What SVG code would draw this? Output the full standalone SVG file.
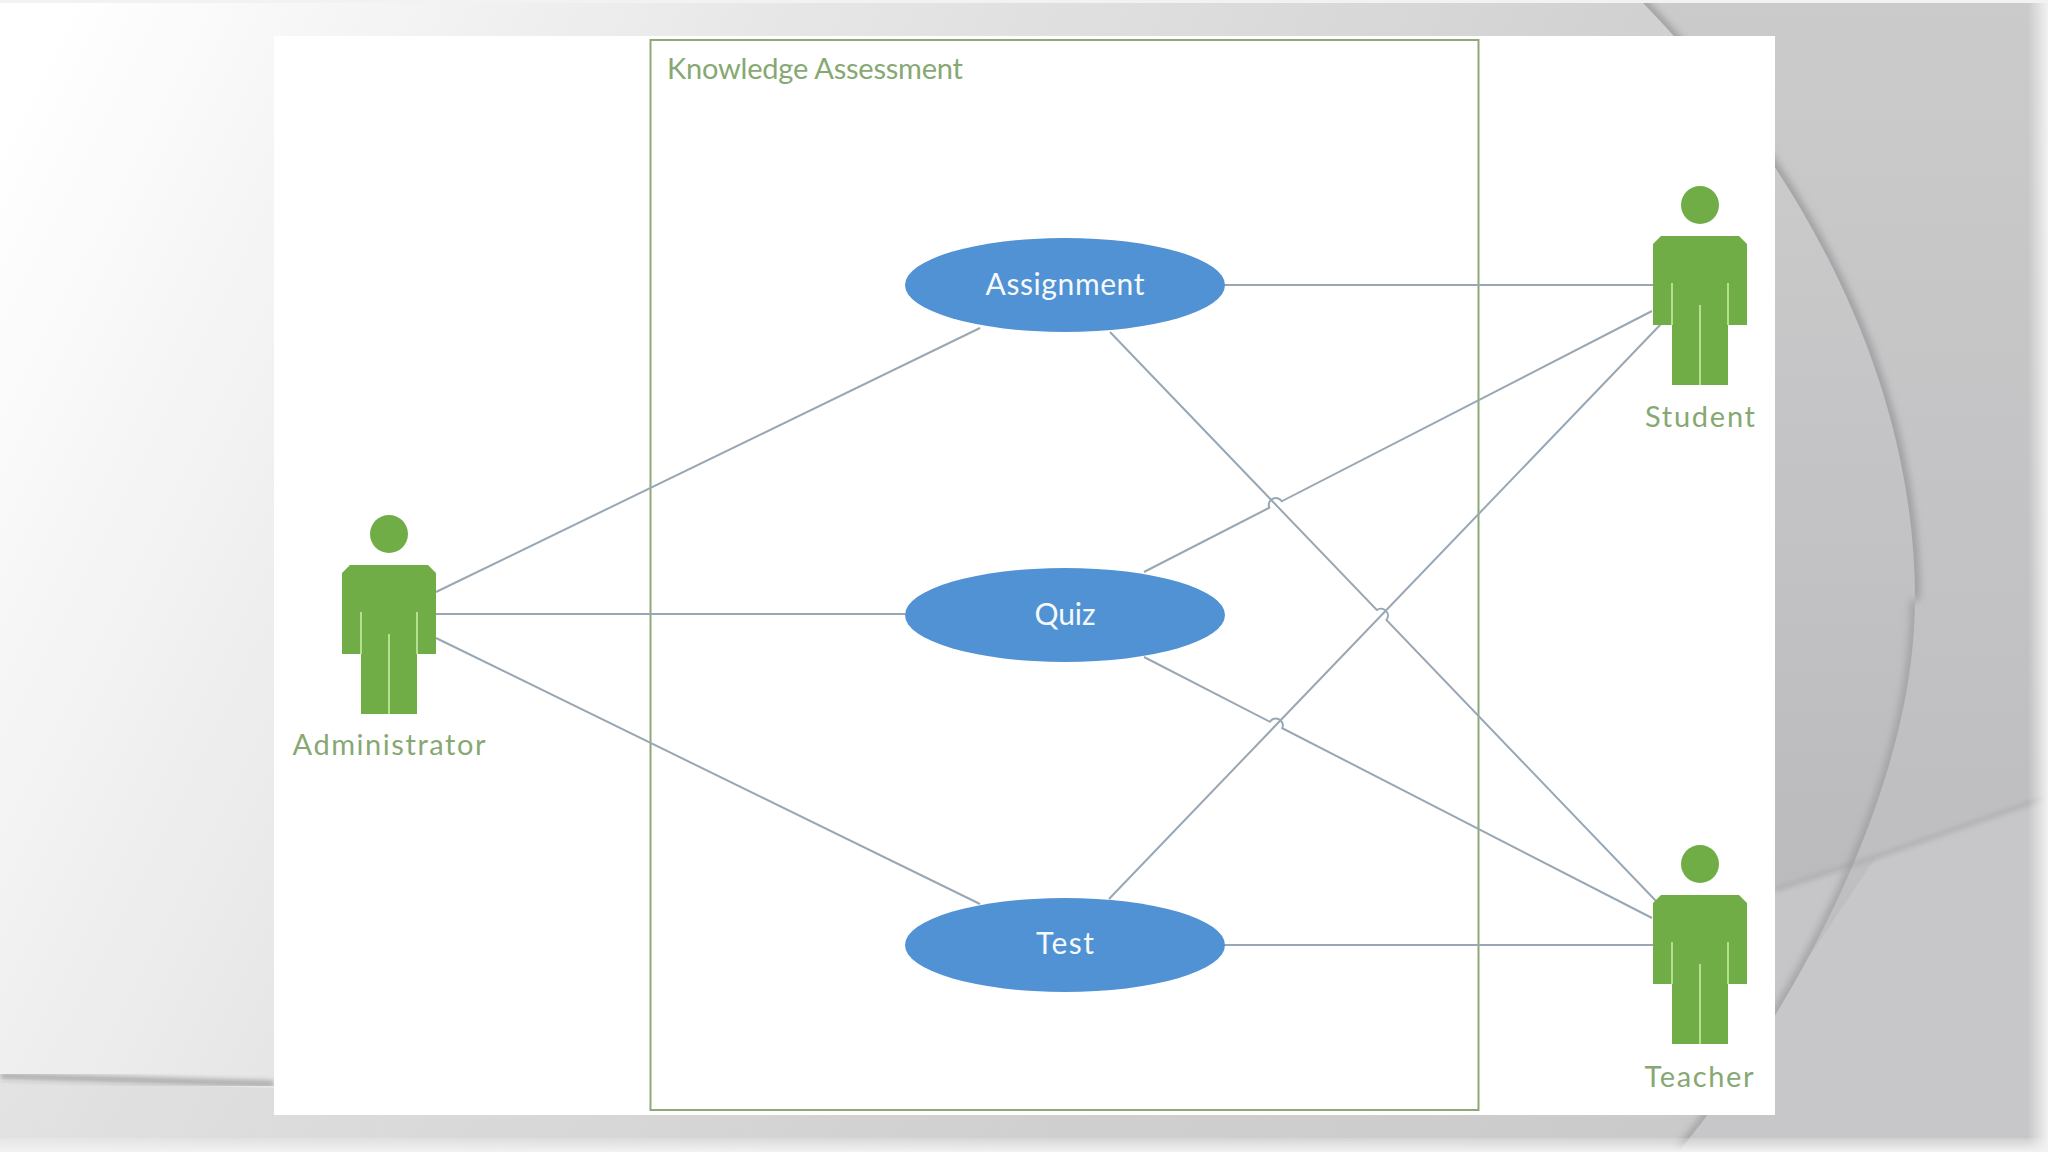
<svg xmlns="http://www.w3.org/2000/svg" width="2048" height="1152" viewBox="0 0 2048 1152">
<defs>
<linearGradient id="bg" gradientUnits="userSpaceOnUse" x1="0" y1="0" x2="1800" y2="900">
<stop offset="0.03" stop-color="#ffffff"/><stop offset="0.36" stop-color="#e6e6e6"/><stop offset="0.72" stop-color="#d2d2d2"/><stop offset="1" stop-color="#cacaca"/>
</linearGradient>
<linearGradient id="edgeR" x1="0" y1="0" x2="1" y2="0"><stop offset="0" stop-color="#f2f2f2" stop-opacity="0"/><stop offset="1" stop-color="#f2f2f2"/></linearGradient>
<linearGradient id="edgeB" x1="0" y1="0" x2="0" y2="1"><stop offset="0" stop-color="#f2f2f2" stop-opacity="0.2"/><stop offset="1" stop-color="#f2f2f2"/></linearGradient>
<linearGradient id="floor" gradientUnits="userSpaceOnUse" x1="0" y1="0" x2="1500" y2="0"><stop offset="0" stop-color="#000" stop-opacity="0.05"/><stop offset="1" stop-color="#000" stop-opacity="0"/></linearGradient>
<linearGradient id="inner" gradientUnits="userSpaceOnUse" x1="0" y1="170" x2="0" y2="880"><stop offset="0" stop-color="#cacacb"/><stop offset="1" stop-color="#bbbabd"/></linearGradient>
<linearGradient id="outer" gradientUnits="userSpaceOnUse" x1="0" y1="0" x2="0" y2="800"><stop offset="0" stop-color="#cbcbcb"/><stop offset="1" stop-color="#bfbec1"/></linearGradient>
<filter id="soft" x="-20%" y="-20%" width="140%" height="140%"><feGaussianBlur stdDeviation="4"/></filter>
<filter id="softer" x="-20%" y="-20%" width="140%" height="140%"><feGaussianBlur stdDeviation="2.5"/></filter>
<clipPath id="rightOfArc"><path d="M1640 0C1750 112 1915 330 1915 600C1915 800 1780 1030 1678 1152L2048 1152L2048 0Z"/></clipPath>
<clipPath id="leftOfArc"><path d="M1640 0C1750 112 1915 330 1915 600C1915 800 1780 1030 1678 1152L1500 1152L1500 0Z"/></clipPath>
<symbol id="actor" overflow="visible">
<circle cx="0" cy="0" r="19" class="a"/>
<path class="a" d="M-39 31H39L47 39V120H28V180H-28V120H-47V39Z"/>
<path class="s" d="M-28 78V120M28 78V120M0 100V180"/>
</symbol>
<style>
.a{fill:#70ad47}
.s{fill:none;stroke:#b5e08f;stroke-width:2}
.u{fill:#5092d3}
.c{fill:none;stroke:#98a7b3;stroke-width:2}
.t{font-family:"Lato","Open Sans","Liberation Sans",sans-serif;font-size:29px;fill:#86a872;text-anchor:middle}
.w{font-family:"Lato","Open Sans","Liberation Sans",sans-serif;font-size:30px;fill:#f6f9fc;text-anchor:middle}
</style>
</defs>
<g id="background">
<rect width="2048" height="1152" fill="url(#bg)"/>
<path d="M0 1081L274 1088V1115H1776V1152H0Z" fill="url(#floor)"/>
<path d="M0 1076L274 1084" stroke="#adadad" stroke-width="7" fill="none" filter="url(#softer)"/>
<path d="M1640 0H2048V1152H1678C1780 1030 1915 800 1915 600C1915 330 1750 112 1640 0Z" fill="url(#outer)"/>
<rect x="1775" y="0" width="160" height="1152" fill="url(#inner)" clip-path="url(#leftOfArc)"/>
<path d="M1775 890L1876 857L1900 900L1775 1060Z" fill="#c6c5c8" clip-path="url(#leftOfArc)"/>
<path d="M1876 857L2048 797V1152H1678Z" fill="#c7c6c9" clip-path="url(#rightOfArc)"/>
<path d="M1775 890L1876 857L2048 797" fill="none" stroke="#afaeb1" stroke-width="4" filter="url(#softer)"/>
<g clip-path="url(#rightOfArc)"><path d="M1640 0C1750 112 1915 330 1915 600" fill="none" stroke="#8f8f92" stroke-width="7" filter="url(#soft)"/></g>
<g clip-path="url(#leftOfArc)"><path d="M1915 600C1915 800 1780 1030 1678 1152" fill="none" stroke="#98989b" stroke-width="7" filter="url(#soft)"/></g>
<rect x="2028" y="0" width="20" height="1152" fill="url(#edgeR)"/>
<rect x="0" y="1138" width="2048" height="14" fill="url(#edgeB)"/>
<rect x="0" y="0" width="2048" height="3" fill="#f2f2f2"/>
</g>
<rect id="panel" x="274" y="36" width="1501" height="1079" fill="#ffffff"/>
<g id="frame">
<rect x="650.5" y="40" width="828" height="1070" fill="none" stroke="#8fa878" stroke-width="2"/>
<text class="t" x="815" y="79" textLength="296" lengthAdjust="spacing">Knowledge Assessment</text>
</g>
<g id="connectors">
<path class="c" d="M436 592L980 328"/>
<path class="c" d="M436 614H905"/>
<path class="c" d="M436 638L980 904"/>
<path class="c" d="M1224 285H1653"/>
<path class="c" d="M1224 945H1653"/>
<path class="c" d="M1144 572L1269.3 507.7A7 7 0 0 1 1281.7 501.3L1652 311"/>
<path class="c" d="M1144 657L1269.9 721.8A7 7 0 0 1 1282.3 728.2L1652 918"/>
<path class="c" d="M1110 332L1376.8 610A7 7 0 0 1 1386.4 620L1656 901"/>
<path class="c" d="M1109 899L1661 324"/>
</g>
<g id="use-assignment"><ellipse class="u" cx="1065" cy="285" rx="160" ry="47"/><text class="w" x="1065" y="295" textLength="159" lengthAdjust="spacing">Assignment</text></g>
<g id="use-quiz"><ellipse class="u" cx="1065" cy="615" rx="160" ry="47"/><text class="w" x="1065" y="625" textLength="61" lengthAdjust="spacing">Quiz</text></g>
<g id="use-test"><ellipse class="u" cx="1065" cy="945" rx="160" ry="47"/><text class="w" x="1065" y="954" textLength="58" lengthAdjust="spacing">Test</text></g>
<g id="actor-administrator"><use href="#actor" x="389" y="534"/><text class="t" x="389" y="755" textLength="193" lengthAdjust="spacing">Administrator</text></g>
<g id="actor-student"><use href="#actor" x="1700" y="205"/><text class="t" x="1700" y="427" textLength="110" lengthAdjust="spacing">Student</text></g>
<g id="actor-teacher"><use href="#actor" x="1700" y="864"/><text class="t" x="1699" y="1087" textLength="109" lengthAdjust="spacing">Teacher</text></g>
</svg>
